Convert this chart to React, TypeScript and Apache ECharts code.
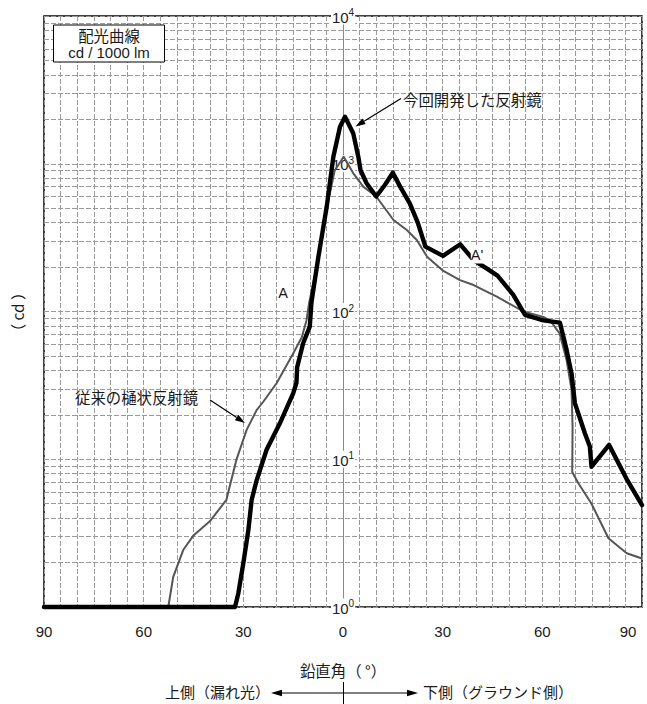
import React, { useEffect, useRef } from "react";
import * as echarts from "echarts";

// ---- data (angle in degrees: negative = upper side, cd / 1000 lm) ----
const newAngles = [-90, -32.5, -31.5, -30, -28.5, -27.5, -26, -23, -19, -15, -14, -13.8, -12, -10, -9.5, -7.4, -4.9, -2.9, -0.9, 0.6, 3.1, 4.6, 5.3, 7.1, 10, 12.6, 15, 17.2, 20.1, 22.5, 24.8, 30.1, 35.3, 39.3, 43.2, 46.5, 51.2, 54.8, 60.3, 65.3, 67.3, 68.8, 69.8, 72.8, 74.3, 74.8, 80.1, 85.3, 90];
const newValues = [1, 1, 1.24, 1.98, 3.3, 5.3, 7.2, 11.6, 17.5, 27.9, 33, 42, 61, 79, 115, 235, 512, 1116, 1780, 2080, 1600, 1116, 900, 738, 600, 718, 870, 700, 540, 400, 275, 238, 285, 223, 196, 175, 130, 95, 87, 84, 55, 38, 24, 15, 12.2, 8.9, 12.5, 7.4, 4.9];

const oldAngles = [-90, -52.6, -51.1, -48.1, -45, -40.1, -35.1, -34.3, -32.1, -29, -26, -24, -20, -15, -12.4, -11, -10.2, -7.4, -4.9, -2.5, 0.2, 3.1, 6.1, 10, 15.2, 19.2, 22.2, 25.3, 30.2, 35.2, 39.3, 46.3, 54.3, 60.3, 62.5, 65.2, 67.3, 68.8, 69.1, 69, 70.8, 74.8, 79.9, 85.4, 90];
const oldValues = [1, 1, 1.6, 2.43, 3.05, 3.8, 5.3, 6.3, 9.9, 15.8, 21.5, 24.5, 32.7, 52, 67, 87, 114, 230, 500, 900, 1116, 861, 700, 600, 416, 356, 305, 235, 188, 163, 151, 126, 100, 92, 86, 71, 47, 29.4, 16.6, 8.2, 6.9, 5.0, 2.92, 2.31, 2.13];

const xTickLabels = [-90, -60, -30, 0, 30, 60, 90];
const yTickValues = [1, 10, 100, 1000, 10000];
const decades = [1, 10, 100, 1000];
const minorMultipliers = [2, 3, 4, 5, 6, 7, 8, 9];

const FONT = "'Liberation Sans', 'Noto Sans CJK JP', sans-serif";
const JFONT = "'Noto Sans CJK JP', 'Liberation Sans', sans-serif";
const CJK = 15.4;

function arrow(x1: number, y1: number, x2: number, y2: number, len = 10, w = 3.2, width = 1.2) {
  const dx = x2 - x1, dy = y2 - y1;
  const L = Math.sqrt(dx * dx + dy * dy);
  const ux = dx / L, uy = dy / L;
  const bx = x2 - ux * len, by = y2 - uy * len;
  const nx = -uy, ny = ux;
  return [
    { type: "line", silent: true, z: 100, shape: { x1, y1, x2: bx, y2: by }, style: { stroke: "#000", lineWidth: width } },
    {
      type: "polygon", silent: true, z: 100,
      shape: { points: [[x2, y2], [bx + nx * w, by + ny * w], [bx - nx * w, by - ny * w]] },
      style: { fill: "#000" },
    },
  ];
}

function txt(x: number, y: number, text: string, size: number, align = "center", extra: any = {}, family = FONT) {
  return {
    type: "text", x, y, silent: true, z: 100, ...extra,
    style: {
      text, fontSize: size, fontFamily: family, fill: "#1a1a1a", lineHeight: Math.round(size),
      align, verticalAlign: "middle", textAlign: align, textVerticalAlign: "middle",
      ...(extra.style || {}),
    },
  };
}

export default function App() {
  const ref = useRef<HTMLDivElement>(null);
  useEffect(() => {
    if (!ref.current) return;
    const chart = echarts.init(ref.current, null, { renderer: "svg" });

    const refLines: any[] = [];
    decades.forEach((d) => minorMultipliers.forEach((m) => refLines.push({ yAxis: d * m })));
    refLines.push({ xAxis: 0, lineStyle: { type: "solid", color: "#8a8a8a", width: 1 } });

    const gridLine = { color: "#9a9a9a", width: 1, type: [5, 2] as any };

    const option: any = {
      animation: false,
      grid: { left: 44, right: 5, top: 16, bottom: 97, show: true, borderColor: "#000", borderWidth: 1.5, backgroundColor: "transparent" },
      xAxis: {
        type: "value", min: -90, max: 90, interval: 5,
        axisLine: { show: false, onZero: false },
        axisTick: { show: false },
        splitLine: { show: true, lineStyle: gridLine },
        axisLabel: {
          margin: 17, color: "#1a1a1a", fontSize: 15, fontFamily: FONT,
          formatter: (v: number) => {
            if (!xTickLabels.includes(v)) return "";
            if (v === 90) return "{r|90}";
            return String(Math.abs(v));
          },
          rich: { r: { fontSize: 15, fontFamily: FONT, color: "#1a1a1a", padding: [0, 28, 0, 0] } },
        },
        name: "鉛直角（ °）", nameLocation: "middle", nameGap: 55,
        nameTextStyle: { fontSize: CJK, fontFamily: JFONT, color: "#1a1a1a", lineHeight: 16 },
      },
      yAxis: {
        type: "log", logBase: 10, min: 1, max: 10000,
        axisLine: { show: false, onZero: false },
        axisTick: { show: false },
        splitLine: { show: true, lineStyle: gridLine },
        axisLabel: { show: false },
      },
      series: [
        {
          type: "line", data: [], silent: true, z: 1,
          markLine: {
            silent: true, symbol: "none", animation: false, z: 1,
            label: { show: false },
            lineStyle: { color: "#9a9a9a", width: 1, type: [5, 2] },
            data: refLines,
          },
        },
        {
          type: "scatter", silent: true, clip: false, symbolSize: 1, z: 1.5,
          itemStyle: { color: "#fff", opacity: 1 },
          data: yTickValues.map((v) => [0, v]),
          label: {
            show: true, position: "inside", backgroundColor: "#fff", padding: [0, 1],
            formatter: (p: any) => `{b|10}{s|${Math.round(Math.log10(p.value[1]))}}`,
            rich: {
              b: { fontSize: 15, fontFamily: FONT, color: "#222", verticalAlign: "bottom", lineHeight: 17 },
              s: { fontSize: 10, fontFamily: FONT, color: "#222", verticalAlign: "top" },
            },
          },
        },
        {
          name: "従来の樋状反射鏡", type: "line", clip: false, showSymbol: false, symbol: "none", z: 3,
          data: oldAngles.map((a, i) => [a, oldValues[i]]),
          lineStyle: { color: "#555", width: 2, join: "round" },
        },
        {
          name: "今回開発した反射鏡", type: "line", clip: false, showSymbol: false, symbol: "none", z: 4,
          data: newAngles.map((a, i) => [a, newValues[i]]),
          lineStyle: { color: "#000", width: 4.4, join: "round", cap: "round" },
        },
      ],
      graphic: {
        elements: [
          { type: "rect", silent: true, z: 100, shape: { x: 53.5, y: 25, width: 111, height: 37 }, style: { fill: "#fff", stroke: "#000", lineWidth: 1 } },
          txt(109, 35, "配光曲線", CJK, "center", {}, JFONT),
          txt(109, 52.5, "cd / 1000 lm", 15),
          txt(403, 99, "今回開発した反射鏡", CJK, "left", {}, JFONT),
          ...arrow(401, 98.5, 355.5, 126.5),
          txt(75, 397, "従来の樋状反射鏡", CJK, "left", {}, JFONT),
          ...arrow(210, 400, 245, 423),
          txt(283, 293, "A", 14.5),
          txt(477, 255, "A'", 14.5, "center", { style: { backgroundColor: "#fff", padding: [1, 0] } }),
          txt(17, 312, "（ cd ）", CJK, "center", { rotation: Math.PI / 2 }, JFONT),
          // bottom direction indicator
          ...arrow(343.5, 693, 271, 693, 11, 3.2, 1),
          ...arrow(343.5, 693, 418, 693, 11, 3.2, 1),
          { type: "line", silent: true, z: 100, shape: { x1: 343.5, y1: 682, x2: 343.5, y2: 704 }, style: { stroke: "#000", lineWidth: 1 } },
          txt(270, 691.5, "上側（漏れ光）", 15, "right", { style: { lineHeight: 14 } }, JFONT),
          txt(423, 691.5, "下側（グラウンド側）", 15, "left", { style: { lineHeight: 14 } }, JFONT),
        ],
      },
    };
    chart.setOption(option);
    return () => chart.dispose();
  }, []);
  return <div ref={ref} style={{ position: "absolute", left: 0, top: 0, width: 647, height: 704, background: "#fff" }} />;
}
